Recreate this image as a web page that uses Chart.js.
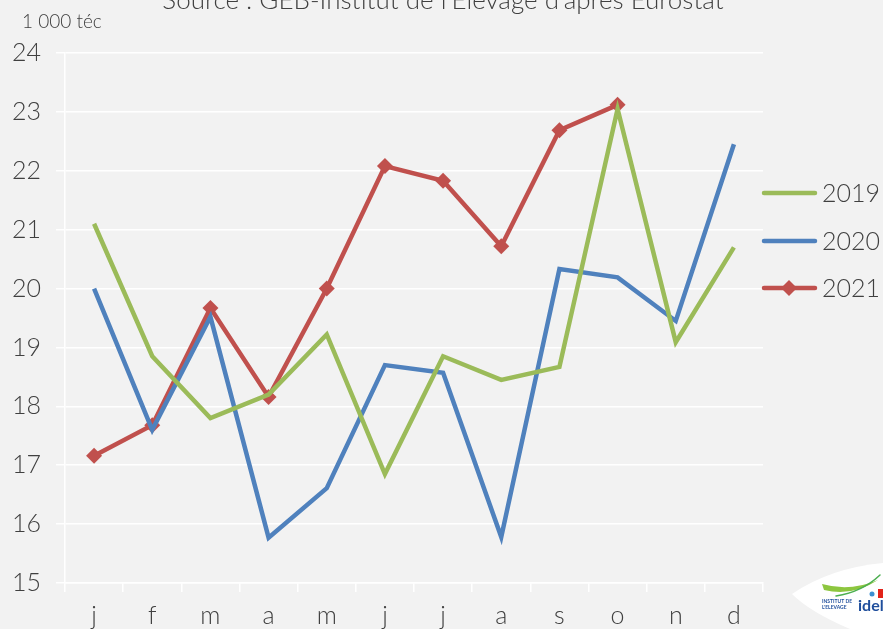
<!DOCTYPE html>
<html lang="fr">
<head>
<meta charset="utf-8">
<title>Abattages mensuels</title>
<script src="https://cdn.jsdelivr.net/npm/chart.js@4/dist/chart.umd.min.js"></script>
<style>
  html, body { margin: 0; padding: 0; background: #f2f2f2; }
  #wrap { width: 883px; height: 629px; position: relative; overflow: hidden; }
</style>
</head>
<body>
<div id="wrap"><canvas id="chart" width="883" height="629"></canvas></div>
<script>
// ---- data (1 000 téc per month) ----
const MONTHS = ['j', 'f', 'm', 'a', 'm', 'j', 'j', 'a', 's', 'o', 'n', 'd'];
const Y_2019 = [21.10, 18.85, 17.80, 18.20, 19.22, 16.85, 18.85, 18.45, 18.67, 23.05, 19.09, 20.70];
const Y_2020 = [20.00, 17.60, 19.52, 15.77, 16.61, 18.70, 18.57, 15.78, 20.33, 20.19, 19.45, 22.45];
const Y_2021 = [17.16, 17.68, 19.67, 18.16, 20.00, 22.08, 21.83, 20.72, 22.69, 23.12];

const TITLE   = "Source : GEB-Institut de l'Elevage d'après Eurostat";
const Y_UNIT  = '1 000 téc';
const FONT    = 'Lato, "DejaVu Sans", sans-serif';
const TEXT    = '#404040';

const GREEN = '#9bbb59';
const BLUE  = '#4f81bd';
const RED   = '#c0504d';

// title (half cut at the top edge), unit label, legend and logo
const decor = {
  id: 'decor',
  afterDraw(chart) {
    const c = chart.ctx;
    c.save();

    c.fillStyle = TEXT;
    c.font = '300 26px ' + FONT;
    c.textAlign = 'center';
    c.textBaseline = 'alphabetic';
    c.fillText(TITLE, 443, 9);

    c.font = '300 19px ' + FONT;
    c.textAlign = 'left';
    c.textBaseline = 'middle';
    c.fillText(Y_UNIT, 22, 22);

    // legend on the right
    const rows = [193, 241, 288];
    chart.data.datasets.forEach((ds, i) => {
      const y = rows[i];
      c.strokeStyle = ds.borderColor;
      c.lineWidth = 4.5;
      c.lineCap = 'round';
      c.beginPath();
      c.moveTo(764, y);
      c.lineTo(815, y);
      c.stroke();
      if (ds.pointStyle === 'rectRot') {
        c.fillStyle = ds.borderColor;
        c.beginPath();
        c.moveTo(789, y - 8);
        c.lineTo(797, y);
        c.lineTo(789, y + 8);
        c.lineTo(781, y);
        c.closePath();
        c.fill();
      }
      c.fillStyle = TEXT;
      c.font = '300 25px ' + FONT;
      c.textAlign = 'left';
      c.textBaseline = 'middle';
      c.fillText(ds.label, 822, y + 1);
    });

    // idele logo, bottom right
    c.fillStyle = '#ffffff';
    c.beginPath();
    c.moveTo(792, 594);
    c.quadraticCurveTo(830, 568, 883, 563);
    c.lineTo(883, 629);
    c.lineTo(850, 629);
    c.quadraticCurveTo(810, 612, 792, 594);
    c.closePath();
    c.fill();

    c.fillStyle = '#8dc63f';
    c.beginPath();
    c.moveTo(822, 584);
    c.quadraticCurveTo(850, 592, 878, 580);
    c.quadraticCurveTo(852, 597, 824, 590);
    c.closePath();
    c.fill();
    c.strokeStyle = '#4caf50';
    c.lineWidth = 1.5;
    c.beginPath();
    c.moveTo(836, 596);
    c.quadraticCurveTo(862, 592, 880, 575);
    c.stroke();

    c.fillStyle = '#1f4e9c';
    c.font = 'bold 5px ' + FONT;
    c.textBaseline = 'alphabetic';
    c.fillText('INSTITUT DE', 822, 603);
    c.fillText("L'ELEVAGE", 822, 609);
    c.font = 'bold 16px ' + FONT;
    c.fillText('idele', 858, 611);
    c.fillStyle = '#e2231a';
    c.fillRect(878, 589, 5, 9);
    c.fillStyle = '#3b8fd1';
    c.beginPath();
    c.arc(872, 594, 2.5, 0, Math.PI * 2);
    c.fill();

    c.restore();
  }
};

new Chart(document.getElementById('chart'), {
  type: 'line',
  data: {
    labels: MONTHS,
    datasets: [
      { label: '2019', data: Y_2019, borderColor: GREEN, backgroundColor: GREEN,
        borderWidth: 4.5, pointRadius: 0, pointStyle: 'circle' },
      { label: '2020', data: Y_2020, borderColor: BLUE, backgroundColor: BLUE,
        borderWidth: 4.5, pointRadius: 0, pointStyle: 'circle' },
      { label: '2021', data: Y_2021, borderColor: RED, backgroundColor: RED,
        borderWidth: 4.5, pointRadius: 8, pointStyle: 'rectRot',
        pointBorderWidth: 0, pointBackgroundColor: RED }
    ]
  },
  options: {
    responsive: false,
    animation: false,
    devicePixelRatio: 1,
    tension: 0,
    layout: { padding: { left: 0, right: 120, top: 53, bottom: 0 } },
    plugins: {
      legend: { display: false },
      title: { display: false },
      tooltip: { enabled: false }
    },
    scales: {
      x: {
        offset: true,
        afterFit: s => { s.height = 46; },
        grid: { offset: true, drawOnChartArea: false, drawTicks: true,
                tickLength: 9, color: '#ffffff', lineWidth: 1.5 },
        border: { display: true, color: '#ffffff', width: 1.5 },
        ticks: { color: TEXT, font: { family: FONT, size: 25, weight: '300' },
                 padding: 9, maxRotation: 0, autoSkip: false }
      },
      y: {
        min: 15, max: 24,
        afterFit: s => { s.width = 65; },
        grid: { color: '#ffffff', lineWidth: 1.5, tickLength: 9 },
        border: { display: true, color: '#ffffff', width: 1.5 },
        ticks: { stepSize: 1, color: TEXT, padding: 15,
                 font: { family: FONT, size: 25, weight: '300' } }
      }
    }
  },
  plugins: [decor]
});
</script>
</body>
</html>
